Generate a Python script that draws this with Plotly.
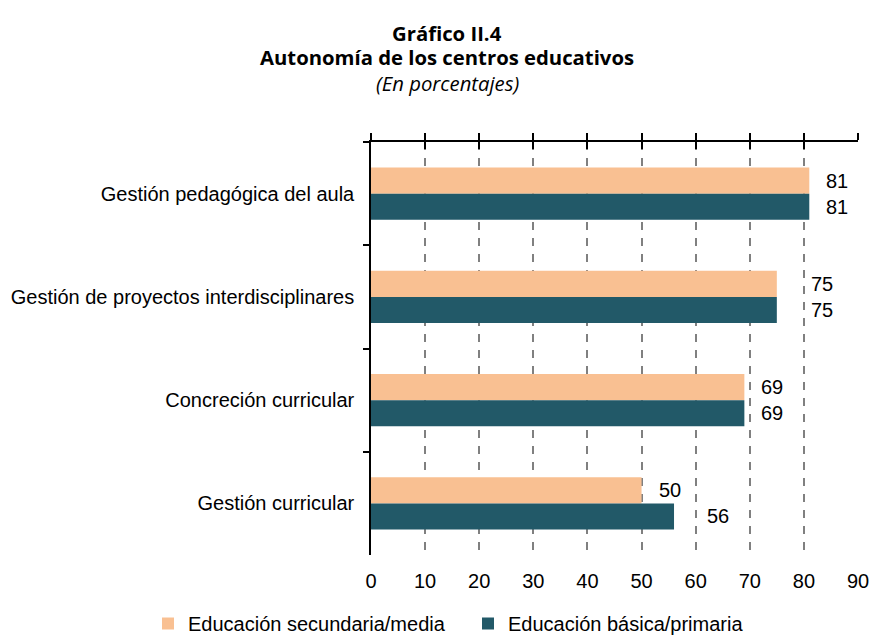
import plotly.graph_objects as go

categories = ["Gestión pedagógica del aula", "Gestión de proyectos interdisciplinares",
              "Concreción curricular", "Gestión curricular"]
secundaria = [81, 75, 69, 50]
basica = [81, 75, 69, 56]
series_names = ["Educación secundaria/media", "Educación básica/primaria"]
x_ticks = [0, 10, 20, 30, 40, 50, 60, 70, 80, 90]
title_lines = ["<b>Gráfico II.4</b>", "<b>Autonomía de los centros educativos</b>",
               "<i>(En porcentajes)</i>"]

# label horizontal offsets (px) as placed in the original
off_sec = [15, 32, 15, 15]
off_bas = [15, 32, 15, 31]

ORANGE = "#F9C092"
TEAL = "#225968"
FONT = "Liberation Sans, Arial, sans-serif"
TFONT = "Open Sans, Noto Sans, sans-serif"
FS = 20

fig = go.Figure()
fig.add_trace(go.Bar(y=categories, x=secundaria, orientation="h", name=series_names[0],
                     marker=dict(color=ORANGE, line=dict(width=0))))
fig.add_trace(go.Bar(y=categories, x=basica, orientation="h", name=series_names[1],
                     marker=dict(color=TEAL, line=dict(width=0))))
# invisible traces to carry the top axes
fig.add_trace(go.Scatter(x=[0, 90], y=[categories[0], categories[0]], xaxis="x2", mode="markers",
                         marker=dict(opacity=0), showlegend=False, hoverinfo="skip"))
fig.add_trace(go.Scatter(x=[0, 90], y=[categories[0], categories[0]], xaxis="x3", mode="markers",
                         marker=dict(opacity=0), showlegend=False, hoverinfo="skip"))

annotations = []
for i, c in enumerate(categories):
    annotations.append(dict(x=secundaria[i], y=c, yshift=13, xshift=off_sec[i], text=str(secundaria[i]),
                            showarrow=False, xanchor="left", yanchor="middle",
                            font=dict(family=FONT, size=FS, color="#000")))
    annotations.append(dict(x=basica[i], y=c, yshift=-13, xshift=off_bas[i], text=str(basica[i]),
                            showarrow=False, xanchor="left", yanchor="middle",
                            font=dict(family=FONT, size=FS, color="#000")))

# title lines (centres at 33, 57, 83 px from the top; plot area 142..555)
title_px = [33, 57, 83]
for txt, py in zip(title_lines, title_px):
    annotations.append(dict(xref="paper", yref="paper", x=(447 - 371) / 487, y=1 + (142 - py) / 413,
                            text=txt, showarrow=False, xanchor="center", yanchor="middle",
                            font=dict(family=TFONT, size=20.3, color="#000")))

axis_common = dict(range=[0, 90], tickvals=x_ticks, automargin=False)
fig.update_layout(
    width=872, height=635,
    margin=dict(l=371, r=14, t=142, b=80, autoexpand=False),
    paper_bgcolor="white", plot_bgcolor="white",
    barmode="group", bargap=0.495, bargroupgap=0,
    font=dict(family=FONT, size=FS, color="#000"),
    xaxis=dict(**axis_common, side="bottom", showline=False, ticks="",
               showgrid=True, gridcolor="#808080", gridwidth=1.5, griddash="8px,8px",
               zeroline=False, tickfont=dict(size=FS), ticklabelstandoff=12),
    xaxis2=dict(**axis_common, overlaying="x", side="top", anchor="y", showline=True,
                linecolor="#000", linewidth=1.5, ticks="outside", ticklen=7, tickwidth=1.5,
                tickcolor="#000", showticklabels=False, showgrid=False, zeroline=False),
    xaxis3=dict(**axis_common, overlaying="x", side="top", anchor="y", showline=False,
                ticks="inside", ticklen=7, tickwidth=1.5, tickcolor="#000",
                showticklabels=False, showgrid=False, zeroline=False),
    yaxis=dict(autorange="reversed", showline=True, linecolor="#000", linewidth=1.5,
               ticks="outside", tickson="boundaries", ticklen=6, tickwidth=1.5, tickcolor="#000",
               showgrid=False, tickfont=dict(size=FS), ticklabelstandoff=11, automargin=False),
    legend=dict(orientation="h", x=(148 - 371) / 487, xanchor="left", y=-(604 - 555) / 413,
                yanchor="top", font=dict(size=FS), traceorder="normal",
                entrywidth=275, entrywidthmode="pixels", tracegroupgap=0),
    annotations=annotations,
    showlegend=True,
)

fig.write_html("out.html", config={"displayModeBar": False},
               post_script="document.body.style.margin='0';")
